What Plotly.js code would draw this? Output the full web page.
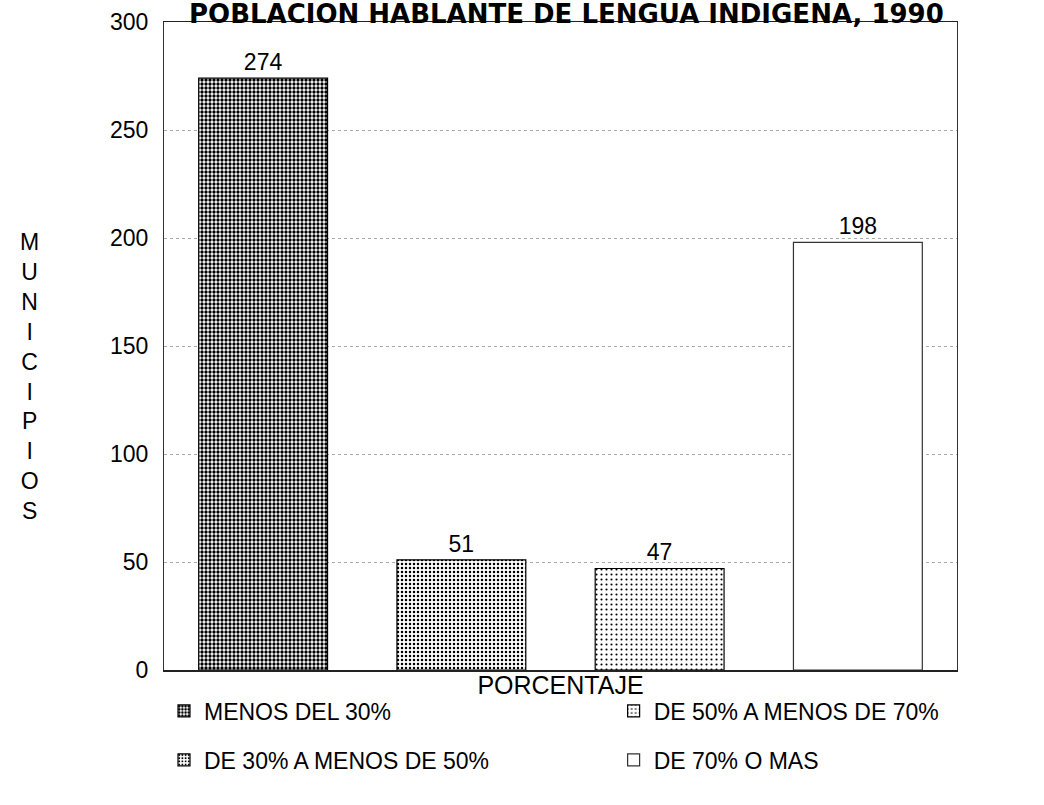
<!DOCTYPE html>
<html>
<head>
<meta charset="utf-8">
<script src="https://cdn.plot.ly/plotly-3.0.1.min.js"></script>
<style>html,body{margin:0;padding:0;background:#fff}#chart{width:1044px;height:805px}</style>
</head>
<body>
<div id="chart"></div>
<script>
const categories = ["MENOS DEL 30%", "DE 30% A MENOS DE 50%", "DE 50% A MENOS DE 70%", "DE 70% O MAS"];
const municipios = [274, 51, 47, 198];
const legendColumn = ["legend", "legend", "legend2", "legend2"];
const tickValues = [0, 50, 100, 150, 200, 250, 300];
const chartTitle = "POBLACION HABLANTE DE LENGUA INDIGENA, 1990";
const yTitle = "MUNICIPIOS";
const xTitle = "PORCENTAJE";

const patterns = [
  {shape: ".", fgcolor: "#000", bgcolor: "#fff", size: 4, solidity: 0.55},
  {shape: ".", fgcolor: "#000", bgcolor: "#fff", size: 4, solidity: 0.3},
  {shape: ".", fgcolor: "#000", bgcolor: "#fff", size: 5, solidity: 0.14},
  {shape: "", fgcolor: "#000", bgcolor: "#fff"}
];

const traces = categories.map((c, i) => ({
  type: "bar",
  name: c,
  x: [c],
  y: [municipios[i]],
  text: [String(municipios[i])],
  textposition: "outside",
  textfont: {family: "Liberation Sans, Arial", size: 23, color: "#000"},
  cliponaxis: false,
  width: 0.65,
  legend: legendColumn[i],
  legendgroup: "g" + i,
  marker: {
    color: "#fff",
    pattern: patterns[i],
    line: {color: i === 3 ? "#333" : "#000", width: 1.2}
  }
}));

const legendCommon = {
  orientation: "v",
  yanchor: "top",
  xanchor: "left",
  traceorder: "grouped",
  tracegroupgap: 16,
  font: {size: 23, color: "#000", family: "Liberation Sans, Arial"},
  bgcolor: "rgba(0,0,0,0)"
};

const layout = {
  width: 1044, height: 805,
  margin: {l: 164, r: 87, t: 22, b: 135, autoexpand: false},
  paper_bgcolor: "#fff", plot_bgcolor: "#fff",
  font: {family: "Liberation Sans, Arial", color: "#000"},
  barmode: "overlay",
  showlegend: true,
  legend: Object.assign({x: 0.0, y: -0.03}, legendCommon),
  legend2: Object.assign({x: 0.567, y: -0.03}, legendCommon),
  xaxis: {
    type: "category",
    showticklabels: false,
    ticks: "",
    showgrid: false,
    showline: true, linecolor: "#222", linewidth: 1.5, mirror: true,
    title: {text: xTitle, font: {size: 25}, standoff: 6}
  },
  yaxis: {
    range: [0, 300],
    tickvals: tickValues,
    ticks: "",
    tickfont: {size: 23},
    ticklabelstandoff: 10,
    showgrid: true, gridcolor: "#aaa", griddash: "dot", gridwidth: 1,
    zeroline: false,
    showline: true, linecolor: "#333", linewidth: 1, mirror: true
  },
  annotations: [
    {
      text: "<b>" + chartTitle + "</b>",
      xref: "paper", yref: "paper",
      x: 0.508, y: 1.034, xanchor: "center", yanchor: "top",
      yshift: 3,
      showarrow: false,
      font: {size: 26, family: "DejaVu Sans", color: "#000"}
    },
    {
      text: yTitle.split("").join("<br>"),
      xref: "paper", yref: "paper",
      x: -0.169, y: 0.4537, xanchor: "center", yanchor: "middle",
      showarrow: false,
      font: {size: 23, family: "Liberation Sans, Arial", color: "#000"}
    }
  ]
};

Plotly.newPlot("chart", traces, layout, {displayModeBar: false, staticPlot: true});
</script>
</body>
</html>
